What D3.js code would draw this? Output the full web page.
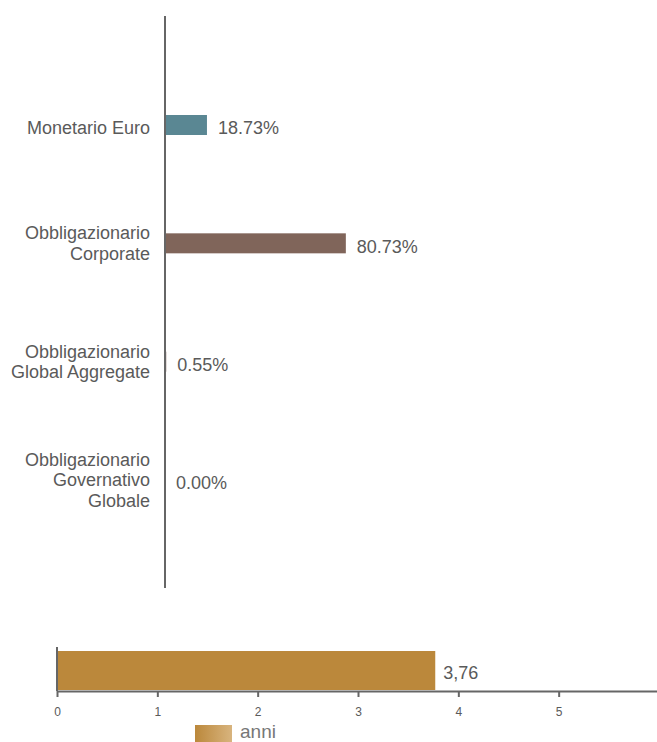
<!DOCTYPE html>
<html>
<head>
<meta charset="utf-8">
<script src="https://cdn.jsdelivr.net/npm/d3@7"></script>
<style>
  body { margin: 0; background: #fff; }
  svg { display: block; font-family: "Liberation Sans", Arial, sans-serif; }
</style>
</head>
<body>
<svg id="chart" width="657" height="742"></svg>
<script>
var categories = ["Monetario Euro", "Obbligazionario\nCorporate", "Obbligazionario\nGlobal Aggregate", "Obbligazionario\nGovernativo\nGlobale"];
var values = [18.73, 80.73, 0.55, 0.00];
var valueLabels = ["18.73%", "80.73%", "0.55%", "0.00%"];
var barColors = ["#5a8793", "#80655a", "#80655a", "#80655a"];

var durationValue = 3.76;
var durationLabel = "3,76";
var durationTicks = [0, 1, 2, 3, 4, 5];
var legendLabel = "anni";

var svg = d3.select("#chart");
var textColor = "#5a5a5a";
var axisColor = "#666";

// top chart: allocation bars
var x = d3.scaleLinear().domain([0, 100]).range([165, 389]);
var y = d3.scalePoint().domain(categories).range([125, 480]);
var lineH = 20.5;

svg.append("g").selectAll("rect")
	.data(values)
	.enter()
	.append("rect")
		.attr("x", x(0))
		.attr("y", function(d, i) { return y(categories[i]) - 10; })
		.attr("width", function(d) { return x(d) - x(0); })
		.attr("height", 20)
		.attr("fill", function(d, i) { return barColors[i]; });

svg.append("line")
	.attr("x1", 165).attr("x2", 165)
	.attr("y1", 16).attr("y2", 588)
	.attr("stroke", axisColor)
	.attr("stroke-width", 2);

svg.append("g").selectAll("text")
	.data(values)
	.enter()
	.append("text")
		.attr("x", function(d) { return x(d) + 11; })
		.attr("y", function(d, i) { return y(categories[i]) + 3; })
		.attr("dy", "0.35em")
		.attr("fill", textColor)
		.attr("font-size", 18)
		.text(function(d, i) { return valueLabels[i]; });

var catLabel = svg.append("g").selectAll("text")
	.data(categories)
	.enter()
	.append("text")
		.attr("text-anchor", "end")
		.attr("fill", textColor)
		.attr("font-size", 18);

catLabel.each(function(d) {
	var lines = d.split("\n");
	var top = y(d) - (lines.length - 1) * lineH / 2 + (lines.length == 1 ? 3 : 0);
	d3.select(this).selectAll("tspan")
		.data(lines)
		.enter()
		.append("tspan")
			.attr("x", 150)
			.attr("y", function(l, i) { return top + i * lineH; })
			.attr("dy", "0.35em")
			.text(function(l) { return l; });
});

// bottom chart: duration
var x2 = d3.scaleLinear().domain([0, 6]).range([57, 659]);

svg.append("rect")
	.attr("x", x2(0) + 1)
	.attr("y", 651)
	.attr("width", x2(durationValue) - x2(0))
	.attr("height", 39)
	.attr("fill", "#bb883b");

svg.append("text")
	.attr("x", x2(durationValue) + 9)
	.attr("y", 673)
	.attr("dy", "0.35em")
	.attr("fill", textColor)
	.attr("font-size", 18)
	.text(durationLabel);

svg.append("line")
	.attr("x1", 57).attr("x2", 57)
	.attr("y1", 647).attr("y2", 691)
	.attr("stroke", axisColor)
	.attr("stroke-width", 2);

var xAxis = svg.append("g")
	.attr("transform", "translate(0,691)")
	.call(d3.axisBottom(x2).tickValues(durationTicks).tickFormat(d3.format("d")).tickSize(6).tickSizeOuter(0));

xAxis.select(".domain").attr("stroke", axisColor).attr("stroke-width", 2);
xAxis.selectAll(".tick line").attr("stroke", axisColor).attr("stroke-width", 2);
xAxis.selectAll(".tick text")
	.attr("fill", textColor)
	.attr("font-size", 12)
	.attr("font-family", "Liberation Sans, Arial, sans-serif")
	.attr("y", 16);

// legend
var grad = svg.append("defs").append("linearGradient")
	.attr("id", "legendGrad");
grad.append("stop").attr("offset", "0%").attr("stop-color", "#bb883b");
grad.append("stop").attr("offset", "100%").attr("stop-color", "#d8b47e");

svg.append("rect")
	.attr("x", 195).attr("y", 725)
	.attr("width", 37).attr("height", 20)
	.attr("fill", "url(#legendGrad)");

svg.append("text")
	.attr("x", 240).attr("y", 738)
	.attr("fill", "#777")
	.attr("font-size", 19)
	.text(legendLabel);
</script>
</body>
</html>
